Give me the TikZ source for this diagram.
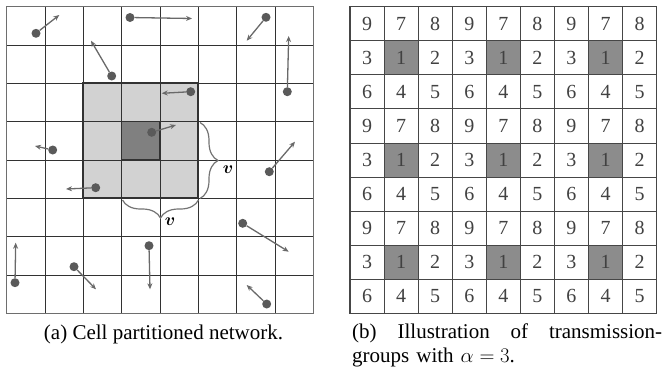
\documentclass[tikz,border=0pt]{standalone}
\usepackage{fontspec}
\setmainfont{Liberation Serif}
\usepackage{amsmath}
\usepackage{tikz}
\usetikzlibrary{arrows.meta, positioning, decorations.pathreplacing}
\definecolor{mygrid}{RGB}{50,50,50}
\definecolor{myframe}{RGB}{110,110,110}
\definecolor{mylight}{RGB}{210,210,210}
\definecolor{mydarkcell}{RGB}{128,128,128}
\definecolor{mydot}{RGB}{90,90,90}
\definecolor{myarrow}{RGB}{105,105,105}
\definecolor{mybrace}{RGB}{115,115,115}
\definecolor{mynum}{RGB}{65,65,65}
\definecolor{myshade}{RGB}{140,140,140}
\definecolor{mytable}{RGB}{70,70,70}
\tikzset{
  gridline/.style={color=mygrid, line width=0.9pt},
  mnode/.style={circle, fill=mydot, inner sep=0pt, minimum size=9pt},
  move/.style={-{Stealth[length=6pt, width=5pt]}, line width=1.3pt, color=myarrow},
  tcell/.style={rectangle, draw=mytable, minimum size=34.07pt, inner sep=0pt,
    line width=0.9pt, text=mynum, font=\fontsize{20}{20}\selectfont},
  vbrace/.style={decorate, decoration={brace, amplitude=18pt}, line width=1.2pt, draw=mybrace},
  blabel/.style={font=\fontsize{17}{17}\selectfont, inner sep=0pt},
  caption/.style={font=\fontsize{21}{24}\selectfont, inner sep=0pt}
}

\begin{document}
\begin{tikzpicture}[x=1pt, y=-1pt]
  \useasboundingbox (0,0) rectangle (666,370);

  % Cell partitioned network
  \fill[mylight] (83.37,83.37) rectangle (198.37,198.37);
  \fill[mydarkcell] (121.7,121.7) rectangle (160.03,160.03);
  \foreach \k in {0,...,8} {
    \draw[gridline] (6.7+\k*38.33,6.7) -- (6.7+\k*38.33,313.3);
    \draw[gridline] (6.7,6.7+\k*38.33) -- (313.3,6.7+\k*38.33);
  }
  \draw[myframe, line width=1.4pt] (6.7,6.7) rectangle (313.3,313.3);
  \draw[mygrid, line width=1.8pt] (83.37,83.37) rectangle (198.37,198.37);
  \draw[mygrid, line width=1.4pt] (121.7,121.7) rectangle (160.03,160.03);

  % moving nodes
  \foreach \i/\px/\py/\qx/\qy in {1/36/33.3/59.3/15, 2/130/17.5/192/18.5,
      3/266/17.3/246.7/40.7, 4/111.7/76/91/40.7, 5/287.3/91.7/288.7/36,
      6/190.7/91.7/161.7/93.3, 7/151.7/132.3/176/125, 8/52.7/150/35/146,
      9/269.3/171.7/295/141.7, 10/95.7/187.7/66/189, 11/242.7/223.3/288.7/251.7,
      12/15/282.7/15.7/242.7, 13/74/266.7/96/289.3, 14/149/245.7/150/289.3,
      15/266.7/304/246.7/285} {
    \node[mnode] (n\i) at (\px,\py) {};
    \coordinate (t\i) at (\qx,\qy);
    \draw[move] (n\i) -- (t\i);
  }

  % cell size braces
  \draw[vbrace] (200,122.5) -- (200,198.5);
  \node[blabel] (vright) at (228,170) {$\boldsymbol{v}$};
  \draw[vbrace] (198.5,200) -- (122.5,200);
  \node[blabel] (vbelow) at (170,222) {$\boldsymbol{v}$};

  % Transmission groups
  \foreach \r in {0,...,8} {
    \foreach \c in {0,...,8} {
      \pgfmathtruncatemacro{\num}{3*mod(\r+2,3)+mod(\c+2,3)+1}
      \ifnum\num=1 \def\cellfill{myshade}\else\def\cellfill{white}\fi
      \node[tcell, fill=\cellfill] (g\r\c) at (367.035+34.07*\c,23.735+34.07*\r) {\num};
    }
  }
  \draw[mytable, line width=1.3pt] (350,6.7) rectangle (656.7,313.3);

  % captions
  \node[caption, anchor=base] (capa) at (163.5,339) {(a) Cell partitioned network.};
  \node[caption, anchor=north west, text width=310pt, align=left] (capb) at (352,324)
    {(b)\hfill Illustration\hfill of\hfill transmission-\\groups with $\alpha = 3$.};
\end{tikzpicture}
\end{document}
